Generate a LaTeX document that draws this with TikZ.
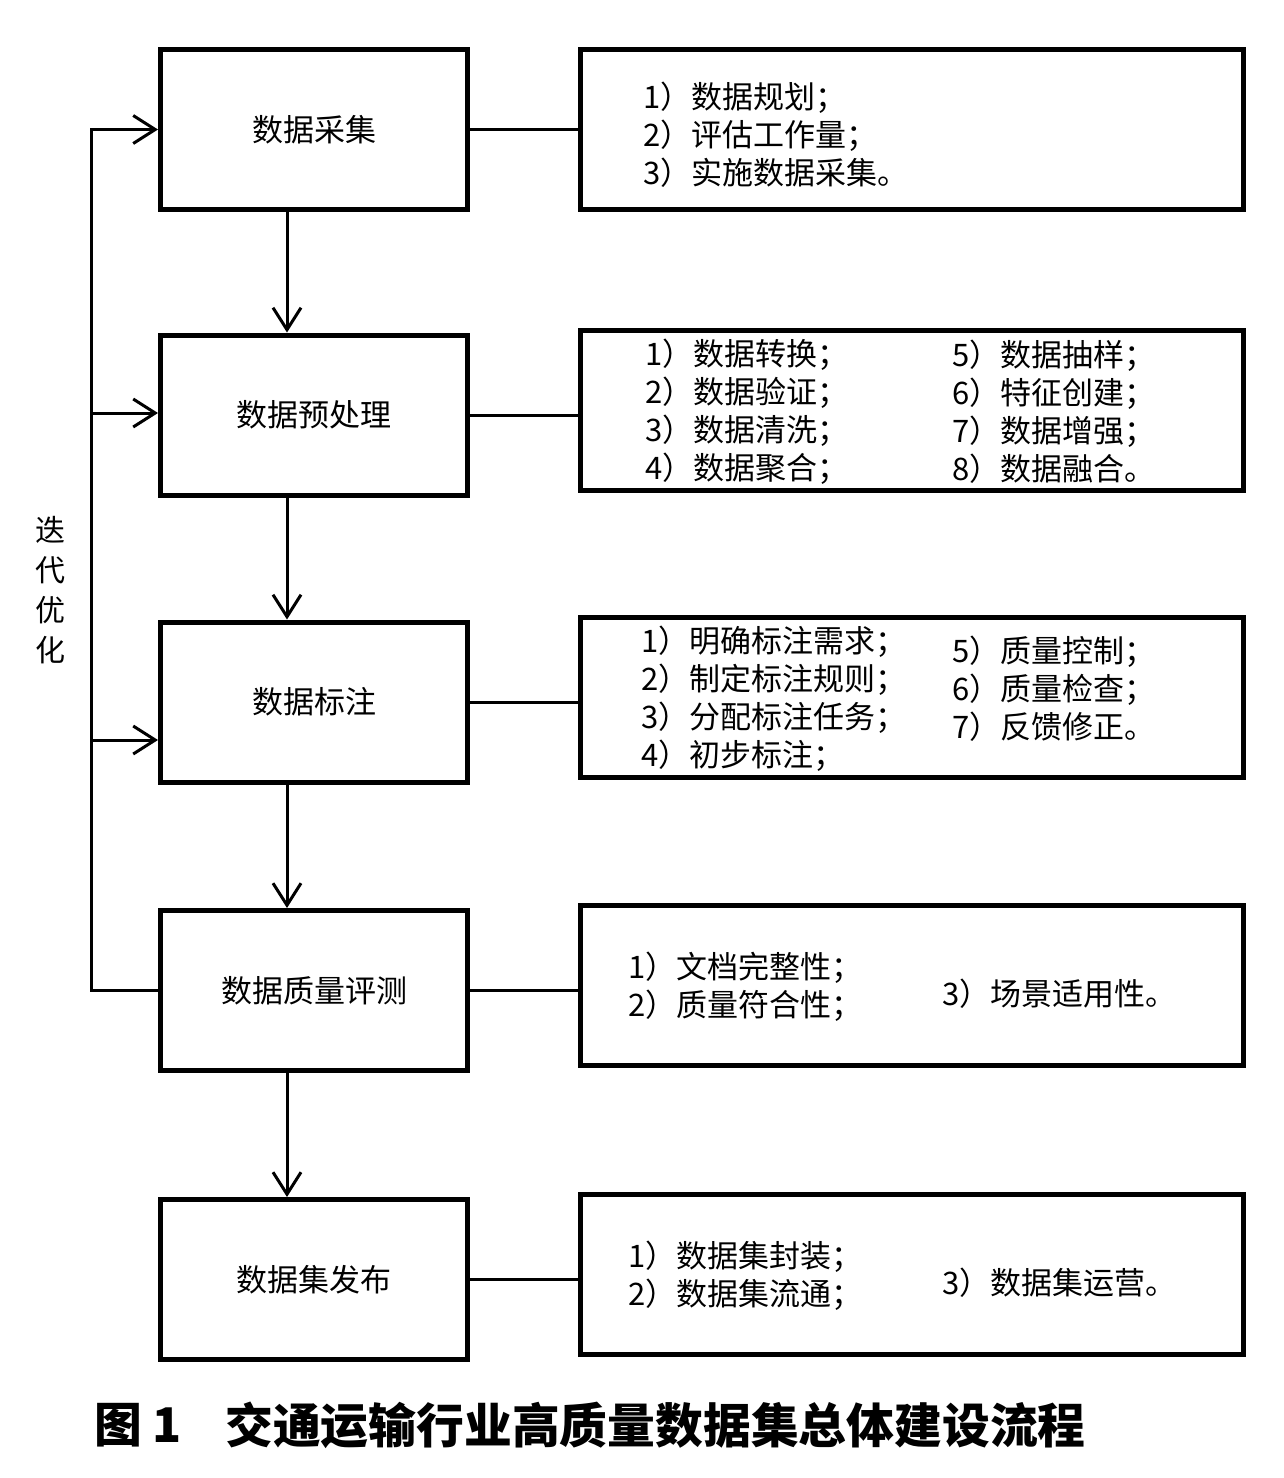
\documentclass[tikz,border=0pt]{standalone}
\usepackage{fontspec}
\setmainfont{Noto Sans CJK SC}
\usetikzlibrary{arrows.meta}
\tikzset{
  stage/.style={draw, line width=5pt, minimum width=307pt, minimum height=160pt, inner sep=0pt, font=\fontsize{31}{38}\selectfont},
  detail/.style={draw, line width=5pt, minimum width=663pt, minimum height=160pt, inner sep=0pt},
  items/.style={anchor=west, align=left, inner sep=0pt, font=\fontsize{31}{38}\selectfont},
  link/.style={line width=3pt},
  flow/.style={line width=3pt, -{Straight Barb[length=22pt,width=28pt]}},
  caption/.style={anchor=west, inner sep=0pt, font=\fontsize{47.8}{47.8}\selectfont\bfseries}
}
\begin{document}
\begin{tikzpicture}[x=1pt, y=-1pt]
\useasboundingbox (0,0) rectangle (1283,1478);

% Left column: the five stages
\node[stage] (s1) at (314,129.5) {数据采集};
\node[stage] (s2) at (314,415) {数据预处理};
\node[stage] (s3) at (314,702) {数据标注};
\node[stage] (s4) at (314,990.5) {数据质量评测};
\node[stage] (s5) at (314,1279.5) {数据集发布};

% Right column: the detail boxes
\node[detail] (d1) at (912,129.5) {};
\node[detail] (d2) at (912,410) {};
\node[detail] (d3) at (912,697.5) {};
\node[detail] (d4) at (912,985.5) {};
\node[detail] (d5) at (912,1274.5) {};

% Texts in the detail boxes
\node[items] (t1) at (643,135) {1）数据规划；\\2）评估工作量；\\3）实施数据采集。};
\node[items] (t2a) at (645,412) {1）数据转换；\\2）数据验证；\\3）数据清洗；\\4）数据聚合；};
\node[items] (t2b) at (952,412) {5）数据抽样；\\6）特征创建；\\7）数据增强；\\8）数据融合。};
\node[items] (t3a) at (641,698.5) {1）明确标注需求；\\2）制定标注规则；\\3）分配标注任务；\\4）初步标注；};
\node[items] (t3b) at (952,689) {5）质量控制；\\6）质量检查；\\7）反馈修正。};
\node[items] (t4a) at (628,987) {1）文档完整性；\\2）质量符合性；};
\node[items] (t4b) at (942,994) {3）场景适用性。};
\node[items] (t5a) at (628,1276) {1）数据集封装；\\2）数据集流通；};
\node[items] (t5b) at (942,1283) {3）数据集运营。};

% Links from stages to details
\foreach \i in {1,...,5}
  \draw[link] (s\i.east) -- (s\i.east -| d\i.west);

% Arrows down the stages
\foreach \a/\b in {s1/s2, s2/s3, s3/s4, s4/s5}
  \draw[flow] ([xshift=-27pt]\a.south) -- ([xshift=-27pt]\a.south |- \b.north);

% Feedback loop
\coordinate (fbtop) at (91,129.5);
\coordinate (fbbot) at (91,990.5);
\coordinate (fb2) at (91,413);
\coordinate (fb3) at (91,740);
\draw[flow] (s4.west) -- (fbbot) -- (fbtop) -- (s1.west);
\draw[flow] (fb2) -- (fb2 -| s2.west);
\draw[flow] (fb3) -- (fb3 -| s3.west);
\node[align=center, inner sep=0pt, font=\fontsize{30}{40}\selectfont] (loop) at (50,590) {迭\\代\\优\\化};

% Caption
\node[caption] (fig) at (94,1425) {图 1};
\node[caption] (title) at (225,1425) {交通运输行业高质量数据集总体建设流程};
\end{tikzpicture}
\end{document}
